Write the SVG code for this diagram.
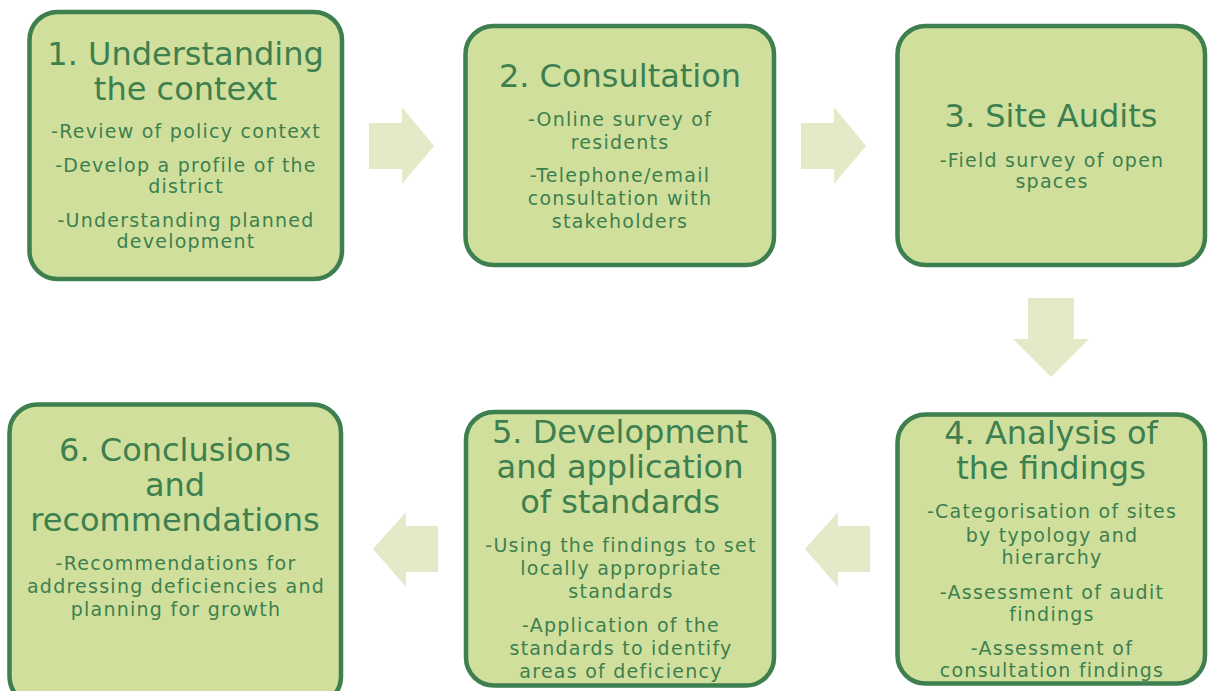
<svg xmlns="http://www.w3.org/2000/svg" width="1208" height="691" viewBox="0 0 1208 691">
<style>
.box{fill:#d1df9c;stroke:#3d7f4f;stroke-width:4.5}
.arr{fill:#e3eac8}
text{font-family:"DejaVu Sans","Verdana",sans-serif;fill:#3d7f4f;text-anchor:middle}
.t{font-size:32px}
.b{font-size:19px;letter-spacing:1.25px}
</style>
<rect width="1208" height="691" fill="#ffffff"/>
<g id="connectors">
<polygon class="arr" points="369,123 402,123 402,107 434,146 402,184 402,169 369,169"/>
<polygon class="arr" points="801,123 834,123 834,107 866,146 834,184 834,169 801,169"/>
<polygon class="arr" points="1028,298 1074,298 1074,339 1089,339 1051,377 1013,339 1028,339"/>
<polygon class="arr" points="870,526 838,526 838,512 805,549 838,587 838,572 870,572"/>
<polygon class="arr" points="438,526 406,526 406,512 373,549 406,587 406,572 438,572"/>
</g>
<g id="node1">
<rect class="box" x="29.5" y="12" width="312.5" height="267" rx="28"/>
<text class="t" x="185.5" y="65">1. Understanding</text>
<text class="t" x="185.5" y="100">the context</text>
<text class="b" x="186" y="138">-Review of policy context</text>
<text class="b" x="186" y="172">-Develop a profile of the</text>
<text class="b" x="186" y="193">district</text>
<text class="b" x="186" y="227">-Understanding planned</text>
<text class="b" x="186" y="248">development</text>
</g>
<g id="node2">
<rect class="box" x="465.5" y="26" width="308.5" height="239" rx="28"/>
<text class="t" x="620" y="87">2. Consultation</text>
<text class="b" x="620" y="126">-Online survey of</text>
<text class="b" x="620" y="149">residents</text>
<text class="b" x="620" y="182">-Telephone/email</text>
<text class="b" x="620" y="205">consultation with</text>
<text class="b" x="620" y="228">stakeholders</text>
</g>
<g id="node3">
<rect class="box" x="897.5" y="26" width="307.5" height="239" rx="28"/>
<text class="t" x="1051" y="127">3. Site Audits</text>
<text class="b" x="1052" y="167">-Field survey of open</text>
<text class="b" x="1052" y="188">spaces</text>
</g>
<g id="node4">
<rect class="box" x="897.5" y="414.5" width="307.5" height="269" rx="28"/>
<text class="t" x="1051" y="443.5">4. Analysis of</text>
<text class="t" x="1051" y="478.5">the findings</text>
<text class="b" x="1052" y="518">-Categorisation of sites</text>
<text class="b" x="1052" y="542">by typology and</text>
<text class="b" x="1052" y="564">hierarchy</text>
<text class="b" x="1052" y="599">-Assessment of audit</text>
<text class="b" x="1052" y="621">findings</text>
<text class="b" x="1052" y="655">-Assessment of</text>
<text class="b" x="1052" y="677">consultation findings</text>
</g>
<g id="node5">
<rect class="box" x="466" y="412" width="308" height="273.5" rx="28"/>
<text class="t" x="620" y="443">5. Development</text>
<text class="t" x="620" y="478">and application</text>
<text class="t" x="620" y="513">of standards</text>
<text class="b" x="621" y="552">-Using the findings to set</text>
<text class="b" x="621" y="575">locally appropriate</text>
<text class="b" x="621" y="598">standards</text>
<text class="b" x="621" y="632">-Application of the</text>
<text class="b" x="621" y="655">standards to identify</text>
<text class="b" x="621" y="678">areas of deficiency</text>
</g>
<g id="node6">
<rect class="box" x="9.5" y="404.5" width="331.5" height="300" rx="28"/>
<text class="t" x="175" y="461">6. Conclusions</text>
<text class="t" x="175" y="496">and</text>
<text class="t" x="175" y="531">recommendations</text>
<text class="b" x="176" y="570">-Recommendations for</text>
<text class="b" x="176" y="593">addressing deficiencies and</text>
<text class="b" x="176" y="616">planning for growth</text>
</g>
</svg>
